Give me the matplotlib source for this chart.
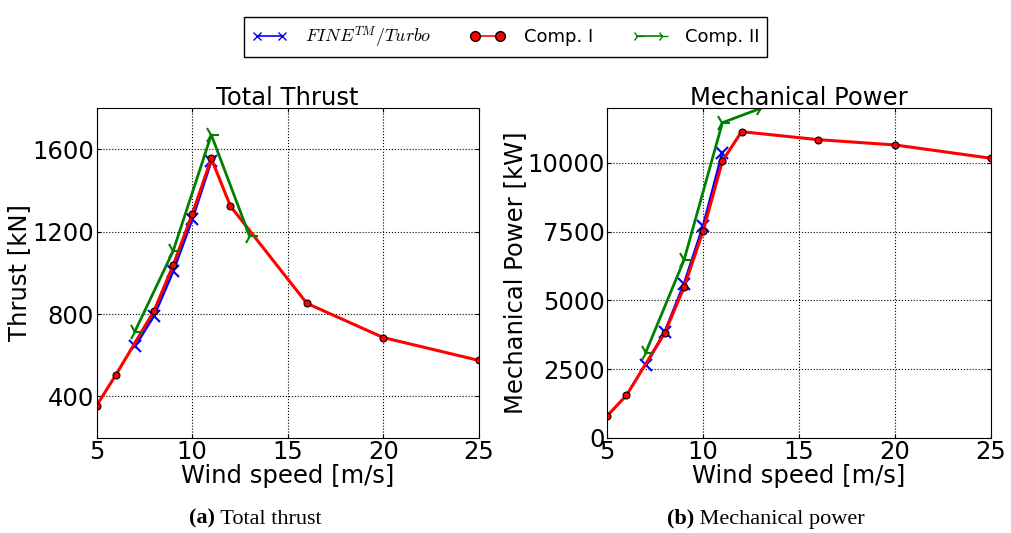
import numpy as np
import matplotlib
matplotlib.use('Agg')
import matplotlib.pyplot as plt

plt.rcParams['mathtext.fontset'] = 'cm'
plt.rcParams['font.family'] = 'DejaVu Sans'

# thrust [kN]
ws_fine = [7, 8, 9, 10, 11]
thrust_fine = [643, 792, 1007, 1260, 1543]
ws_comp1 = [5, 6, 8, 9, 10, 11, 12, 16, 20, 25]
thrust_comp1 = [356, 504, 815, 1036, 1284, 1555, 1324, 852, 686, 575]
ws_comp2 = [7, 9, 11, 13]
thrust_comp2 = [715, 1105, 1670, 1179]

# mechanical power [kW]
power_fine = [2646, 3858, 5594, 7717, 10374]
power_comp1 = [800, 1543, 3822, 5474, 7535, 10072, 11138, 10847, 10654, 10170]
power_comp2 = [3094, 6468, 11466, 11990]

captions = [('(a)', 'Total thrust'), ('(b)', 'Mechanical power')]

fig = plt.figure(figsize=(10.11, 5.33), dpi=100)
ax1 = fig.add_axes([0.0956, 0.1788, 0.378, 0.6186])
ax2 = fig.add_axes([0.6007, 0.1788, 0.3795, 0.6186])

def draw(ax, y_fine, y_c1, y_c2):
    l1, = ax.plot(ws_fine, y_fine, color='blue', marker='x', markersize=8,
                  markeredgewidth=1.5, linewidth=2, label=r'$FINE^{TM}/Turbo$')
    l2, = ax.plot(ws_comp1, y_c1, color='red', marker='o', markersize=5,
                  markeredgecolor='black', markeredgewidth=0.8, linewidth=2.2,
                  label='Comp. I')
    l3, = ax.plot(ws_comp2, y_c2, color='green', marker='4', markersize=12,
                  markeredgewidth=1.5, linewidth=2, label='Comp. II')
    ax.set_xlim(5, 25)
    ax.set_xticks([5, 10, 15, 20, 25])
    ax.grid(True, color='black', linestyle=':', linewidth=0.8)
    ax.tick_params(labelsize=17.5, direction='in', top=True, right=True,
                   length=3, pad=2)
    ax.set_xlabel('Wind speed [m/s]', fontsize=17.5, labelpad=0)
    return [l1, l2, l3]

handles = draw(ax1, thrust_fine, thrust_comp1, thrust_comp2)
ax1.set_ylim(200, 1800)
ax1.set_yticks([400, 800, 1200, 1600])
ax1.set_ylabel('Thrust [kN]', fontsize=17.5, labelpad=1)
ax1.set_title('Total Thrust', fontsize=17.5, pad=2)

draw(ax2, power_fine, power_comp1, power_comp2)
ax2.set_ylim(0, 12000)
ax2.set_yticks([0, 2500, 5000, 7500, 10000])
ax2.set_ylabel('Mechanical Power [kW]', fontsize=17.5, labelpad=0)
ax2.set_title('Mechanical Power', fontsize=17.5, pad=2)

leg = fig.legend(handles=handles, loc='upper center', bbox_to_anchor=(0.5, 0.985),
                 ncol=3, fontsize=13, fancybox=False, framealpha=1,
                 edgecolor='black', numpoints=2, columnspacing=2.1,
                 handletextpad=1.0, borderpad=0.4)
leg.get_frame().set_linewidth(1.0)
for h, ms in zip(leg.legend_handles, [6, 7, 8]):
    h.set_markersize(ms)
    h.set_markeredgewidth(1.0)
    h.set_linewidth(1.2)

# captions: bold tag + normal text, centred together under each panel
renderer = fig.canvas.get_renderer()
for xc, (tag, txt) in zip([255.5, 766.0], captions):
    t1 = fig.text(0, 0.017, tag, fontsize=16, family='Liberation Serif',
                  weight='bold', va='baseline')
    t2 = fig.text(0, 0.017, ' ' + txt, fontsize=16, family='Liberation Serif',
                  va='baseline')
    w1 = t1.get_window_extent(renderer).width
    w2 = t2.get_window_extent(renderer).width
    x0 = xc - (w1 + w2) / 2
    t1.set_x(x0 / 1011)
    t2.set_x((x0 + w1) / 1011)

fig.savefig('out.png', dpi=100)
